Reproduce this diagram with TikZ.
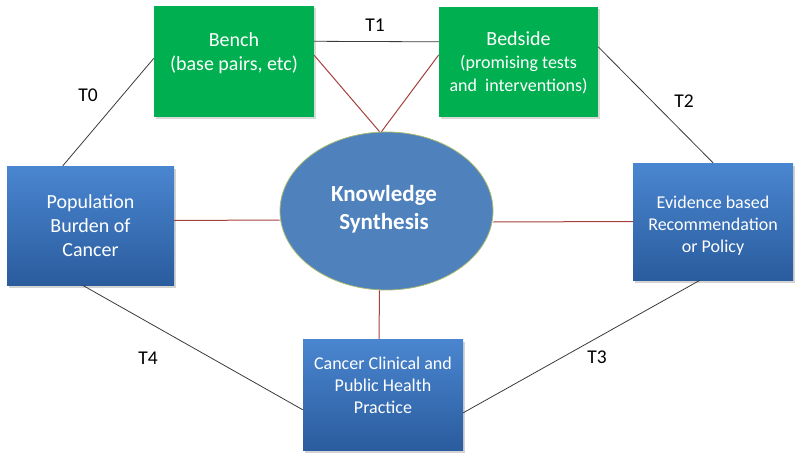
\documentclass[tikz,border=0pt]{standalone}
\usepackage{fontspec}
\setmainfont{Carlito}
\usetikzlibrary{shadows,calc,shapes.geometric}
\definecolor{boxgreen}{HTML}{00B050}
\definecolor{bluetop}{HTML}{4A86D0}
\definecolor{bluebot}{HTML}{2A5C9E}
\definecolor{ellfill}{HTML}{4F81BD}
\definecolor{ellline}{HTML}{A6B96E}
\definecolor{redline}{HTML}{A5403C}
\definecolor{blkline}{HTML}{3A3A3A}
\tikzset{
  greenbox/.style={draw=none, fill=boxgreen, minimum width=#1, minimum height=110pt, inner sep=0pt,
    drop shadow={opacity=0.3, shadow xshift=1.5pt, shadow yshift=-2pt}},
  bluebox/.style={draw=none, top color=bluetop, bottom color=bluebot, inner sep=0pt,
    drop shadow={opacity=0.35, shadow xshift=2pt, shadow yshift=-3pt}},
  boxtext/.style 2 args={text=white, align=center, font=\fontsize{#1}{#2}\selectfont, inner sep=0pt},
  tlabel/.style={font=\fontsize{19.5}{22}\selectfont, text=black, inner sep=0pt},
  tline/.style={draw=blkline, line width=0.8pt},
  rline/.style={draw=redline, line width=1pt}
}
\begin{document}
\begin{tikzpicture}[x=1pt,y=-1pt]
\useasboundingbox (0,0) rectangle (800,460);
% boxes
\node[greenbox=160pt] (bench) at (234,61.5) {};
\node[greenbox=159pt] (bedside) at (518.5,62) {};
\node[bluebox, minimum width=167pt, minimum height=119pt] (pop) at (90.5,225.5) {};
\node[bluebox, minimum width=160pt, minimum height=117pt] (evid) at (713,221.5) {};
\node[bluebox, minimum width=160pt, minimum height=111pt] (canc) at (383,394.5) {};
\node[ellipse, draw=ellline, line width=0.8pt, fill=ellfill, minimum width=213pt, minimum height=158pt, inner sep=0pt] (ks) at (386.5,211) {};
% texts
\node[boxtext={20}{24}] (benchT) at (234,53) {Bench\\(base pairs, etc)};
\node[boxtext={18}{23}] (bedsideT) at (518.5,63) {{\fontsize{20}{24}\selectfont Bedside}\\(promising tests\\and~ interventions)};
\node[boxtext={20}{24}] (popT) at (90.5,225.5) {Population\\Burden of\\Cancer};
\node[boxtext={18}{22}] (evidT) at (713,226) {Evidence based\\Recommendation\\or Policy};
\node[boxtext={18}{22}] (cancT) at (383,385) {Cancer Clinical and\\Public Health\\Practice};
\node[text=white, align=center, font=\fontsize{23}{28}\selectfont\bfseries, inner sep=0pt] (ksT) at (384,209) {Knowledge\\Synthesis};
% black T edges
\draw[tline] ([xshift=56pt]pop.north west) -- ([yshift=-52pt]bench.north west);
\draw[tline] ([yshift=-35pt]bench.north east) -- ([yshift=-35pt]bedside.north west);
\draw[tline] ([yshift=-40pt]bedside.north east) -- (evid.north);
\draw[tline] ([xshift=-13pt]evid.south) -- ([yshift=-74pt]canc.north east);
\draw[tline] ([xshift=-8pt]pop.south) -- ([yshift=-71pt]canc.north west);
% red edges
\draw[rline] ([yshift=-49pt]bench.north east) -- ([xshift=-7pt]ks.north);
\draw[rline] ([yshift=-48pt]bedside.north west) -- ([xshift=-5pt]ks.north);
\draw[rline] ([yshift=5pt]pop.east) -- ([yshift=-9pt]ks.west);
\draw[rline] (evid.west) -- ([yshift=-11pt]ks.east);
\draw[rline] ([xshift=-7pt]ks.south) -- ([xshift=-4pt]canc.north);
% labels
\node[tlabel] (t0) at (88,95) {T0};
\node[tlabel] (t1) at (375,25) {T1};
\node[tlabel] (t2) at (684,101) {T2};
\node[tlabel] (t3) at (597,357) {T3};
\node[tlabel] (t4) at (148,358) {T4};
\end{tikzpicture}
\end{document}
